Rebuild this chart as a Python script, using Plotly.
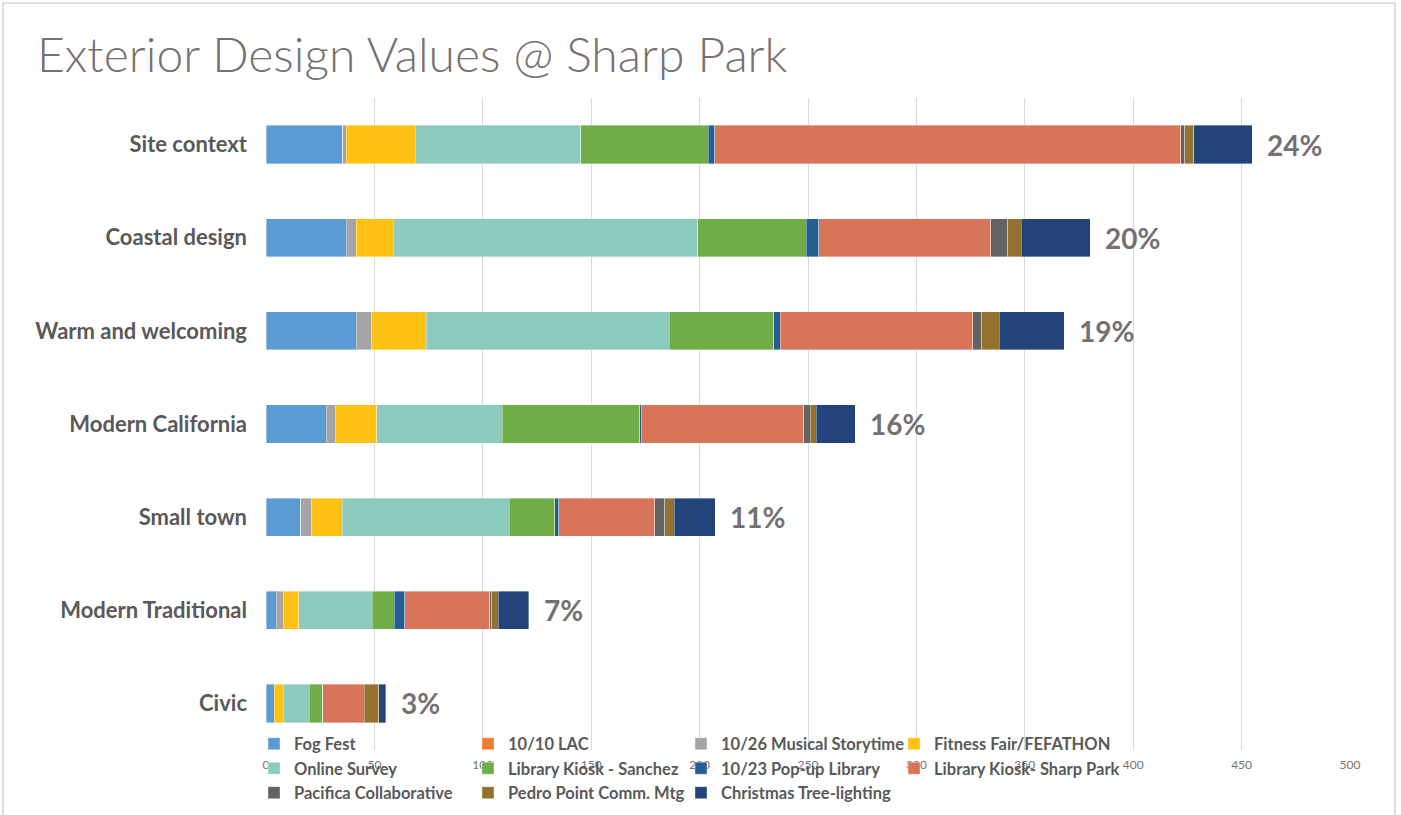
import plotly.graph_objects as go

categories = ["Site context", "Coastal design", "Warm and welcoming", "Modern California",
              "Small town", "Modern Traditional", "Civic"]
pct_labels = ["24%", "20%", "19%", "16%", "11%", "7%", "3%"]

series_names = ["Fog Fest", "10/10 LAC", "10/26 Musical Storytime", "Fitness Fair/FEFATHON",
                "Online Survey", "Library Kiosk - Sanchez", "10/23 Pop-up Library",
                "Library Kiosk- Sharp Park", "Pacifica Collaborative", "Pedro Point Comm. Mtg",
                "Christmas Tree-lighting"]

fog_fest = [35.4, 36.9, 41.7, 27.9, 16.0, 4.8, 3.8]
lac_1010 = [0, 0, 0, 0, 0, 0, 0]
musical_storytime = [1.5, 4.8, 7.1, 4.0, 5.1, 3.2, 0]
fitness_fair = [32.0, 17.1, 25.1, 19.1, 14.0, 7.1, 4.2]
online_survey = [76.2, 140.3, 112.1, 58.0, 77.2, 34.0, 12.0]
kiosk_sanchez = [58.9, 50.1, 48.1, 63.3, 20.9, 10.0, 6.2]
popup_library = [3.0, 5.8, 3.0, 0.7, 1.8, 4.9, 0]
kiosk_sharp_park = [215.0, 79.4, 89.0, 75.1, 44.2, 39.1, 19.1]
pacifica_collab = [1.8, 7.8, 4.0, 2.9, 4.8, 1.1, 0]
pedro_point = [4.1, 6.2, 8.0, 2.9, 4.2, 2.9, 6.8]
christmas_tree = [27.0, 31.8, 30.0, 17.9, 19.1, 14.2, 3.1]

series_values = [fog_fest, lac_1010, musical_storytime, fitness_fair, online_survey,
                 kiosk_sanchez, popup_library, kiosk_sharp_park, pacifica_collab,
                 pedro_point, christmas_tree]

colors = ["#5B9BD5", "#ED7D31", "#A5A5A5", "#FDC214", "#8BCABD", "#70AD47",
          "#255E91", "#D7745A", "#636363", "#94712C", "#22447A"]

# legend laid out in 4 columns (one vertical legend per column)
legend_ids = ["legend", "legend2", "legend3", "legend4",
              "legend", "legend2", "legend3", "legend4",
              "legend", "legend2", "legend3"]

fig = go.Figure()
for name, vals, col, lg in zip(series_names, series_values, colors, legend_ids):
    fig.add_trace(go.Bar(
        y=categories, x=vals, name=name, orientation="h",
        marker=dict(color=col, line=dict(color="rgba(255,255,255,0.6)", width=0.6)),
        legend=lg,
    ))

totals = [sum(s[i] for s in series_values) for i in range(len(categories))]
for cat, tot, lab in zip(categories, totals, pct_labels):
    fig.add_annotation(x=tot, y=cat, text=lab, showarrow=False, xanchor="left",
                       xshift=13, font=dict(family="Lato", size=28, color="#767171", weight="bold"))

W, H = 1401, 815
legend_common = dict(orientation="v", xref="container", yref="container", xanchor="left",
                     yanchor="middle", bgcolor="rgba(0,0,0,0)", itemclick=False,
                     font=dict(family="Lato", size=16.5, color="#595959", weight="bold"),
                     traceorder="normal")

fig.update_layout(
    width=W, height=H,
    barmode="stack", bargap=0.59,
    paper_bgcolor="white", plot_bgcolor="white",
    margin=dict(l=266, r=51, t=98, b=65, autoexpand=False),
    title=dict(text="Exterior Design Values @ Sharp Park", x=37 / W, xanchor="left",
               y=1 - 55 / H, yanchor="middle",
               font=dict(family="Lato", size=48, color="#767171", weight=300)),
    xaxis=dict(range=[0, 500], dtick=50, showgrid=True, gridcolor="#D9D9D9", gridwidth=1,
               zeroline=False, showline=False, ticks="", ticklabelstandoff=6,
               tickfont=dict(family="Lato", size=12, color="#767171")),
    yaxis=dict(autorange="reversed", showgrid=False, ticks="", ticklabelstandoff=18,
               tickfont=dict(family="Lato", size=22, color="#595959", weight="bold")),
    legend=dict(**legend_common, x=254 / W, y=1 - 768.5 / H),
    legend2=dict(**legend_common, x=468 / W, y=1 - 768.5 / H),
    legend3=dict(**legend_common, x=681 / W, y=1 - 768.5 / H),
    legend4=dict(**legend_common, x=894 / W, y=1 - 756 / H),
    showlegend=True,
)

# outer chart frame
fig.add_shape(type="rect", xref="paper", yref="paper",
              x0=(3 - 266) / 1084, x1=(1395 - 266) / 1084,
              y0=-0.2, y1=(750 - 3) / 652,
              line=dict(color="#BFBFBF", width=1), fillcolor="rgba(0,0,0,0)", layer="below")

fig.write_html("out.html", config={"displayModeBar": False},
               post_script="document.body.style.margin='0';")
